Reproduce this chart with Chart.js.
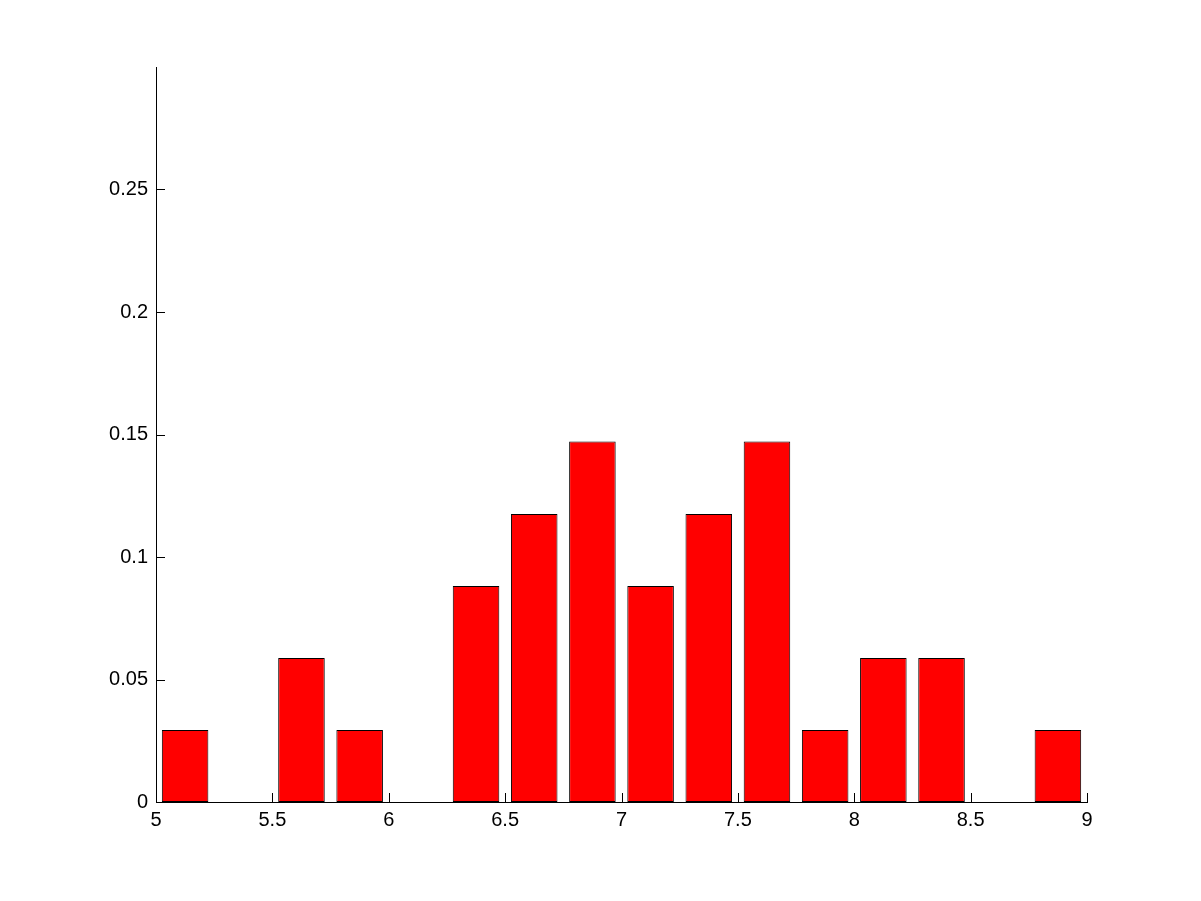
<!DOCTYPE html>
<html>
<head>
<meta charset="utf-8">
<script src="https://cdn.jsdelivr.net/npm/chart.js@4/dist/chart.umd.min.js"></script>
<style>
  html, body { margin: 0; padding: 0; background: #fff; overflow: hidden; }
  #wrap { width: 1201px; height: 901px; position: relative; }
</style>
</head>
<body>
<div id="wrap"><canvas id="histChart"></canvas></div>
<script>
// bin centres (width 0.25) and relative frequency
const binCenters = [5.125, 5.375, 5.625, 5.875, 6.125, 6.375, 6.625, 6.875,
                    7.125, 7.375, 7.625, 7.875, 8.125, 8.375, 8.625, 8.875];
const freqs = [0.0294, 0, 0.0588, 0.0294, 0, 0.0882, 0.1176, 0.1471,
               0.0882, 0.1176, 0.1471, 0.0294, 0.0588, 0.0588, 0, 0.0294];
const xTicks = [5, 5.5, 6, 6.5, 7, 7.5, 8, 8.5, 9];
const yTicks = [0, 0.05, 0.1, 0.15, 0.2, 0.25];

const fontSpec = { family: "'Liberation Sans', Arial, sans-serif", size: 20 };

// matlab-style ticks pointing into the plot
const innerTicks = {
  id: "innerTicks",
  afterDraw(chart) {
    const c = chart.ctx;
    const xs = chart.scales.x, ys = chart.scales.y;
    c.save();
    c.strokeStyle = "#000";
    c.lineWidth = 1;
    c.beginPath();
    xTicks.forEach(v => {
      const px = Math.round(xs.getPixelForValue(v)) + 0.5;
      c.moveTo(px, ys.bottom);
      c.lineTo(px, ys.bottom - 9);
    });
    yTicks.forEach(v => {
      const py = Math.round(ys.getPixelForValue(v)) + 0.5;
      c.moveTo(xs.left, py);
      c.lineTo(xs.left + 9, py);
    });
    c.stroke();
    c.restore();
  }
};

new Chart(document.getElementById("histChart").getContext("2d"), {
  type: "bar",
  data: {
    datasets: [{
      data: binCenters.map((x, i) => ({ x: x, y: freqs[i] })),
      backgroundColor: "#ff0000",
      borderColor: "#000000",
      borderWidth: 1,
      borderSkipped: false,
      barPercentage: 0.8,
      categoryPercentage: 1.0,
    }]
  },
  options: {
    responsive: true,
    maintainAspectRatio: false,
    animation: false,
    layout: { padding: { left: 0, top: 67, right: 114, bottom: 0 } },
    plugins: {
      legend: { display: false },
      tooltip: { enabled: false },
    },
    scales: {
      x: {
        type: "linear",
        min: 5,
        max: 9,
        offset: false,
        afterBuildTicks: (s) => { s.ticks = xTicks.map(v => ({ value: v })); },
        afterFit: (s) => { s.height = 99; },
        grid: { display: false, drawTicks: false },
        border: { display: true, color: "#000", width: 1 },
        ticks: {
          color: "#000",
          font: fontSpec,
          padding: 6,
          maxRotation: 0,
          callback: (v) => String(v),
        },
      },
      y: {
        min: 0,
        max: 0.3,
        afterBuildTicks: (s) => { s.ticks = yTicks.map(v => ({ value: v })); },
        afterFit: (s) => { s.width = 156; },
        grid: { display: false, drawTicks: false },
        border: { display: true, color: "#000", width: 1 },
        ticks: {
          color: "#000",
          font: fontSpec,
          padding: 8,
          callback: (v) => String(+v.toFixed(2)),
        },
      },
    },
  },
  plugins: [innerTicks],
});
</script>
</body>
</html>
